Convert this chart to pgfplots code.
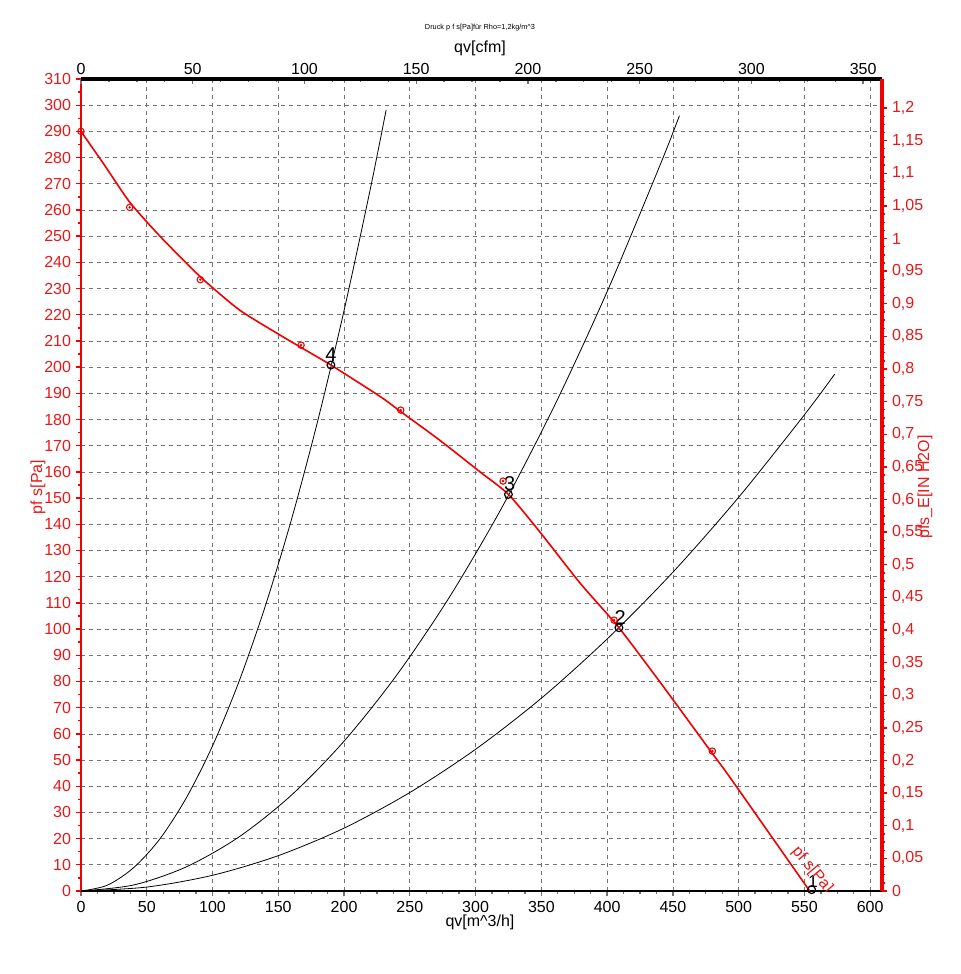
\documentclass[border=0pt]{standalone}
\usepackage{fontspec}
\setmainfont{Liberation Sans}
\usepackage{pgfplots}
\pgfplotsset{compat=1.18}
\definecolor{kred}{RGB}{232,24,24}
\definecolor{lred}{RGB}{240,0,0}
\definecolor{gridgray}{RGB}{115,115,115}

\pgfplotsset{
  base/.style={scale only axis, width=600.75pt, height=609pt,
    at={(0,0)}, anchor=south west,
    /pgf/number format/assume math mode=true,
    tick label style={font=\fontsize{12}{14}\selectfont},
    major tick length=4pt, minor tick length=2.5pt, tick align=outside},
}

\begin{document}
\begin{tikzpicture}
\path (-60.75pt,-62.25pt) rectangle (659.25pt,668.25pt);

% main axis: qv [m^3/h] against p_fs [Pa]
\begin{axis}[base, name=main,
  xmin=0, xmax=609, ymin=0, ymax=310,
  axis x line*=bottom, axis y line*=left,
  xtick={0,50,...,600}, ytick={0,10,...,310},
  minor x tick num=3, minor y tick num=1,
  grid=major,
  major grid style={gridgray, dash pattern=on 3pt off 3pt, line width=0.5pt},
  x axis line style={black, line width=2.2pt, -},
  y axis line style={lred, line width=2.2pt, -},
  xtick style={gridgray, line width=1pt},
  ytick style={lred, line width=1pt},
  yticklabel style={kred},
]
% system curves
\addplot[black, line width=0.6pt, smooth] coordinates {
  (0,0)(20,2.2)(40,8.9)(60,19.9)(80,35.5)(100,55.4)(120,79.8)(140,108.6)
  (160,141.8)(180,179.5)(200,221.6)(220,268.1)(232,298.2)};
\addplot[black, line width=0.6pt, smooth] coordinates {
  (0,0)(40,2.3)(80,9.2)(120,20.6)(160,36.6)(200,57.2)(240,82.4)(280,112.1)
  (320,146.4)(360,185.3)(400,228.8)(440,276.8)(455,296.0)};
\addplot[black, line width=0.6pt, smooth] coordinates {
  (0,0)(50,1.5)(100,6.0)(150,13.5)(200,24.0)(250,37.6)(300,54.1)(350,73.6)
  (400,96.2)(450,121.7)(500,150.3)(550,181.8)(573,197.3)};
% fan curve
\addplot[lred, line width=1.2pt, smooth, tension=0.4] coordinates {
  (0,290)(18,277)(37,263)(60,250)(90.7,234.5)(120,222)(148.8,213)
  (167.3,207.5)(190,200.8)(227.4,188.8)(243.1,183)(273,172)(303.4,160)
  (325,151.4)(349,137)(379.5,117.5)(409,100.5)(442.8,78)(480,52.5)
  (493.5,43.3)(554,0)};
\addplot[lred, line width=0.8pt, only marks, mark=o, mark size=2.4pt] coordinates {
  (0,290)(37,261)(90.7,233.4)(167.3,208.4)(243.1,183.6)(320.9,156.5)(405.3,103.4)(480,53.4)};
\addplot[lred, only marks, mark=*, mark size=0.7pt] coordinates {
  (0,290)(37,261)(90.7,233.4)(167.3,208.4)(243.1,183.6)(320.9,156.5)(405.3,103.4)(480,53.4)};
% operating points
\addplot[black, line width=0.9pt, only marks, mark=o, mark size=2.9pt] coordinates {
  (190,200.8)(325,151.4)(409,100.5)(555.5,0.5)};
\node[anchor=south, inner sep=0pt, yshift=2.4pt, font=\fontsize{15}{15}\selectfont] at (axis cs:190,200.8) {4};
\node[anchor=south, inner sep=0pt, yshift=2.4pt, xshift=1pt, font=\fontsize{15}{15}\selectfont] at (axis cs:325,151.4) {3};
\node[anchor=south, inner sep=0pt, yshift=2.4pt, xshift=1pt, font=\fontsize{15}{15}\selectfont] at (axis cs:409,100.5) {2};
\node[anchor=south, inner sep=0pt, yshift=1.2pt, xshift=1pt, font=\fontsize{13}{13}\selectfont] at (axis cs:555.5,0.5) {1};
\node[kred, rotate=-50, font=\fontsize{12}{14}\selectfont] at (axis cs:556,8) {pf s[Pa]};
\end{axis}

% top axis: qv [cfm]
\begin{axis}[base,
  xmin=0, xmax=358.45, ymin=0, ymax=1,
  axis x line*=top, axis y line=none,
  xtick={0,50,...,350}, minor x tick num=3, tick align=inside,
  x axis line style={black, line width=3pt, -},
  xtick style={gridgray, line width=1pt},
]
\end{axis}

% right axis: p_fs [in H2O]
\begin{axis}[base,
  xmin=0, xmax=1, ymin=0, ymax=1.24453,
  axis y line*=right, axis x line=none,
  ytick={0,0.05,0.1,0.15,0.2,0.25,0.3,0.35,0.4,0.45,0.5,0.55,0.6,0.65,0.7,
         0.75,0.8,0.85,0.9,0.95,1,1.05,1.1,1.15,1.2},
  minor y tick num=3,
  scaled y ticks=false,
  y axis line style={lred, line width=3pt, -},
  ytick style={lred, line width=1pt},
  yticklabel style={kred, /pgf/number format/.cd, fixed, precision=2, use comma},
]
\end{axis}

\node[kred, rotate=90, font=\fontsize{12}{14}\selectfont] at (-32.25pt,303pt) {pf s[Pa]};
\node[kred, rotate=90, font=\fontsize{12}{14}\selectfont] at (633pt,303pt) {pfs\_E[IN H2O]};
\node[font=\fontsize{12}{14}\selectfont] at (299.25pt,-23.25pt) {qv[m\textasciicircum 3/h]};
\node[font=\fontsize{12}{14}\selectfont] at (299.25pt,632.25pt) {qv[cfm]};
\node[font=\fontsize{5.5}{6}\selectfont] at (299.25pt,647.25pt) {Druck p f s[Pa]für Rho=1,2kg/m\textasciicircum 3};
\end{tikzpicture}
\end{document}
